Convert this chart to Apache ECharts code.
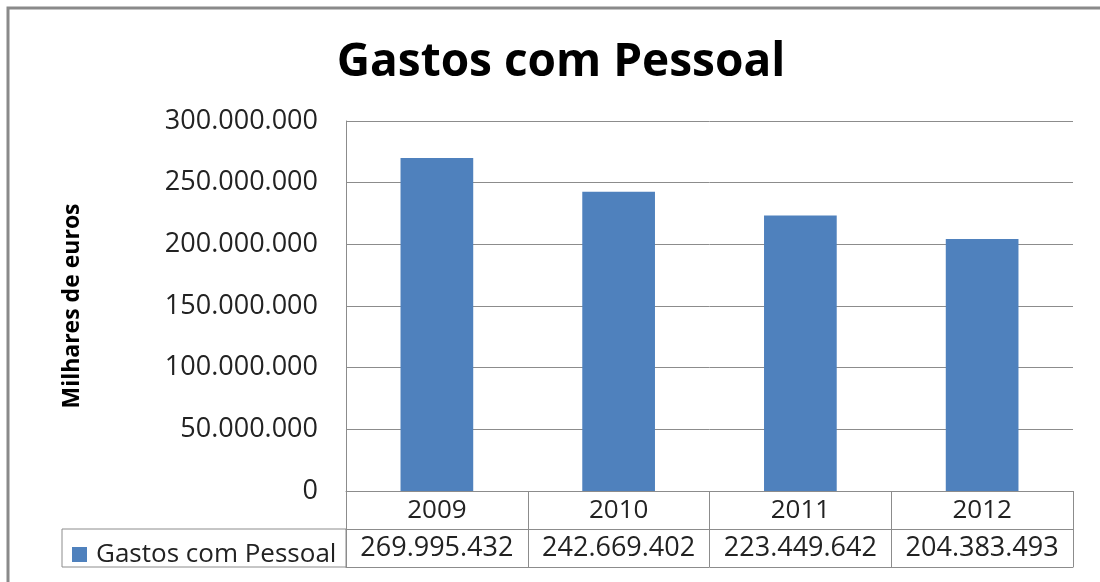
<!DOCTYPE html>
<html>
<head>
<meta charset="utf-8">
<script src="https://cdn.jsdelivr.net/npm/echarts@6/dist/echarts.min.js"></script>
<style>html,body{margin:0;padding:0;background:#fff;}#c{width:1100px;height:582px;}</style>
</head>
<body>
<div id="c"></div>
<script>
const categories = ['2009', '2010', '2011', '2012'];
const seriesName = 'Gastos com Pessoal';
const values = [269995432, 242669402, 223449642, 204383493];
const yTicks = { min: 0, max: 300000000, interval: 50000000 };
const titleText = 'Gastos com Pessoal';
const yAxisTitle = 'Milhares de euros';

function fmt(v) {
  return String(Math.round(v)).replace(/\B(?=(\d{3})+(?!\d))/g, '.');
}

const FONT = '"Open Sans", "Liberation Sans", sans-serif';
const GRID = { left: 346, right: 27, top: 121, bottom: 91 };
const ROW = 38;
const LINE = '#8c8c8c';
const TXT = '#222';

const chart = echarts.init(document.getElementById('c'), null, { renderer: 'canvas' });
chart.setOption({
  animation: false,
  backgroundColor: '#fff',
  title: {
    text: titleText,
    left: 556, top: 35, textAlign: 'center',
    textStyle: { fontFamily: FONT, fontSize: 46, fontWeight: 'bold', color: '#000' }
  },
  legend: {
    data: [seriesName],
    left: 67, top: 536,
    icon: 'rect', itemWidth: 15, itemHeight: 15, itemGap: 4,
    textStyle: { fontFamily: FONT, fontSize: 26, color: TXT, lineHeight: 27, padding: [0,0,0,4] }
  },
  grid: GRID,
  xAxis: [
    {
      type: 'category', data: categories, position: 'bottom',
      axisLine: { show: true, lineStyle: { color: LINE, width: 1 } },
      axisTick: { show: true, length: ROW * 2, lineStyle: { color: LINE, width: 1 } },
      axisLabel: { interval: 0, fontFamily: FONT, fontSize: 26, color: TXT, margin: 7 }
    },
    {
      type: 'category', data: categories, position: 'bottom', offset: ROW,
      axisLine: { show: true, lineStyle: { color: LINE, width: 1 } },
      axisTick: { show: false },
      axisLabel: { interval: 0, hideOverlap: false, fontFamily: FONT, fontSize: 27, color: TXT, margin: 6,
        formatter: (v, i) => fmt(values[i]) }
    },
    {
      type: 'category', data: categories, position: 'bottom', offset: ROW * 2,
      axisLine: { show: true, lineStyle: { color: LINE, width: 1 } },
      axisTick: { show: false },
      axisLabel: { show: false }
    }
  ],
  yAxis: {
    type: 'value', min: yTicks.min, max: yTicks.max, interval: yTicks.interval,
    name: yAxisTitle, nameLocation: 'middle', nameGap: 262,
    nameTextStyle: { fontFamily: FONT, fontSize: 23, fontWeight: 'bold', color: '#000' },
    axisLine: { show: true, lineStyle: { color: LINE, width: 1 } },
    axisTick: { show: false },
    splitLine: { show: true, lineStyle: { color: LINE, width: 1 } },
    axisLabel: { fontFamily: FONT, fontSize: 27, color: TXT, margin: 28, formatter: fmt }
  },
  series: [{
    name: seriesName, type: 'bar', data: values, barWidth: '40%',
    itemStyle: { color: '#4f81bd' }
  }],
  graphic: [
    { type: 'rect', shape: { x: 62, y: 491 + ROW, width: 346 - 62, height: ROW },
      style: { fill: 'none', stroke: LINE, lineWidth: 1 }, z: 0 },
    { type: 'rect', shape: { x: 8, y: 8, width: 1100, height: 600 },
      style: { fill: 'none', stroke: '#8a8a8a', lineWidth: 3 }, z: 0 }
  ]
});
</script>
</body>
</html>
